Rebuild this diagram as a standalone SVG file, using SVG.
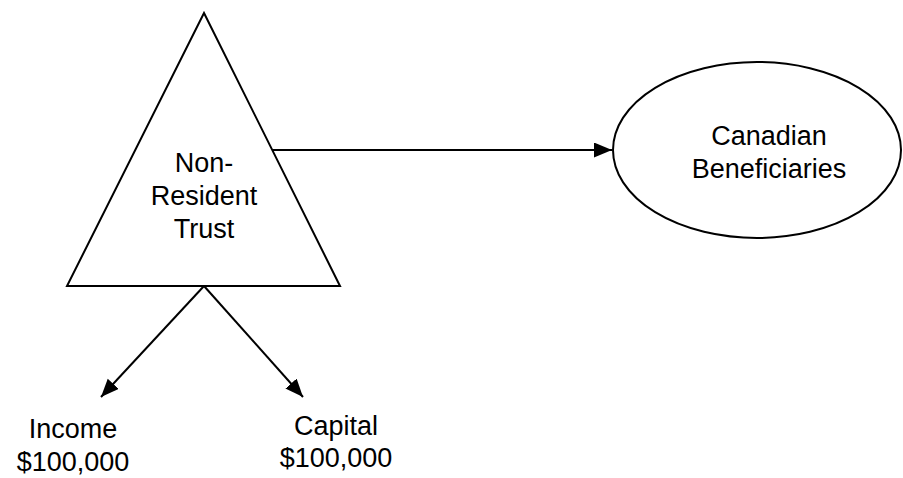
<svg xmlns="http://www.w3.org/2000/svg" width="903" height="478" viewBox="0 0 903 478">
<style>
.shape{fill:#fff;stroke:#000;stroke-width:2}
.conn{stroke:#000;stroke-width:2;fill:none}
text{font-family:"Liberation Sans",Arial,sans-serif;font-size:27px;fill:#000;text-anchor:middle}
</style>
<defs>
<marker id="ah" markerUnits="userSpaceOnUse" markerWidth="20" markerHeight="16" refX="18" refY="7.5" orient="auto">
<path d="M0,0 L18,7.5 L0,15 Z" fill="#000"/>
</marker>
</defs>
<rect width="903" height="478" fill="#fff"/>
<g id="trust">
<polygon class="shape" points="204,13 340,286 67,286"/>
<text x="204" y="172">Non-</text>
<text x="204" y="205">Resident</text>
<text x="204" y="238">Trust</text>
</g>
<g id="beneficiaries">
<ellipse class="shape" cx="757" cy="150" rx="144" ry="88"/>
<text x="769" y="145">Canadian</text>
<text x="769" y="178">Beneficiaries</text>
</g>
<g id="income">
<text x="73" y="438">Income</text>
<text x="73" y="471">$100,000</text>
</g>
<g id="capital">
<text x="336" y="435">Capital</text>
<text x="336" y="467">$100,000</text>
</g>
<g id="connectors">
<line class="conn" x1="272" y1="150" x2="612" y2="150" marker-end="url(#ah)"/>
<line class="conn" x1="204" y1="286" x2="101" y2="397" marker-end="url(#ah)"/>
<line class="conn" x1="204" y1="286" x2="303" y2="397" marker-end="url(#ah)"/>
</g>
</svg>
